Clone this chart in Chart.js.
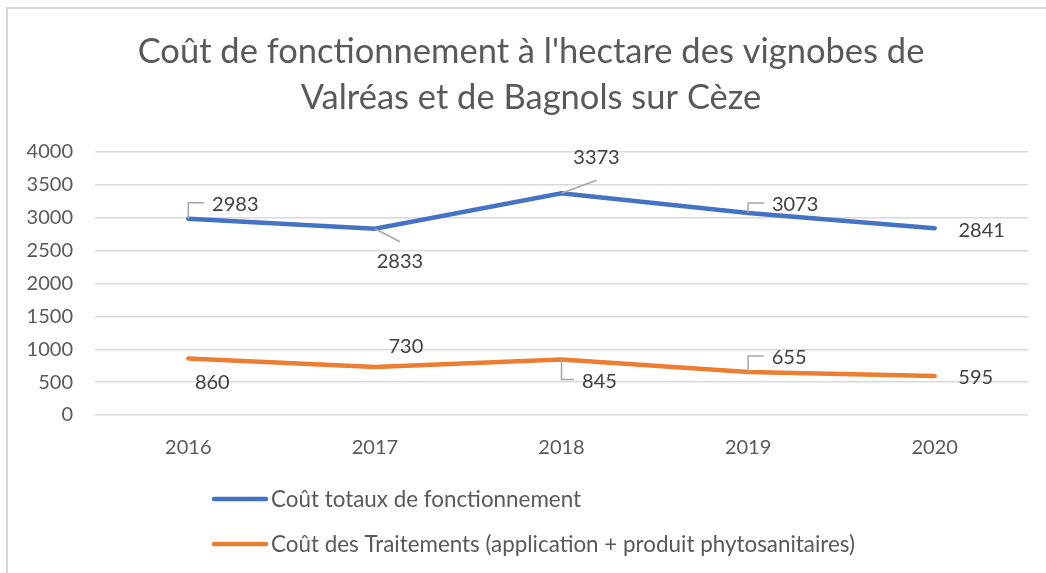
<!DOCTYPE html>
<html>
<head>
<meta charset="utf-8">
<script src="https://cdn.jsdelivr.net/npm/chart.js@4/dist/chart.umd.min.js"></script>
<style>
  html, body { margin: 0; padding: 0; background: #fff; }
  #wrap { position: relative; width: 1046px; height: 573px; }
  #frame { position: absolute; left: 6px; top: 7px; width: 1100px; height: 600px; border: 2px solid #d9d9d9; box-sizing: border-box; }
  #graph { position: absolute; left: 0; top: 0; }
</style>
</head>
<body>
<div id="wrap">
  <div id="frame"></div>
  <canvas id="graph" width="1046" height="573"></canvas>
</div>
<script>
const titre = ["Coût de fonctionnement à l'hectare des vignobes de", "Valréas et de Bagnols sur Cèze"];
const annees = ['2016', '2017', '2018', '2019', '2020'];
const nomTotal = 'Coût totaux de fonctionnement';
const nomTraitement = 'Coût des Traitements (application + produit phytosanitaires)';
const coutTotal = [2983, 2833, 3373, 3073, 2841];
const coutTraitement = [860, 730, 845, 655, 595];
const yTicks = [0, 500, 1000, 1500, 2000, 2500, 3000, 3500, 4000];

// placement des etiquettes (decalage par rapport au point) et type de trait de rappel
const etiqTotal = [
  {dx: 47, dy: -14, trait: 'coude'},
  {dx: 25, dy: 33, trait: 'ligne'},
  {dx: 35, dy: -36, trait: 'ligne'},
  {dx: 47, dy: -8, trait: 'coude'},
  {dx: 47, dy: 2, trait: ''}
];
const etiqTraitement = [
  {dx: 24, dy: 24, trait: ''},
  {dx: 31, dy: -20, trait: ''},
  {dx: 38, dy: 22, trait: 'coude'},
  {dx: 41, dy: -14, trait: 'coude'},
  {dx: 41, dy: 2, trait: ''}
];

const gris = '#595959';
const police = 'Lato, "Open Sans", sans-serif';

const etiquettes = {
  id: 'etiquettes',
  afterDatasetsDraw(chart) {
    const ctx = chart.ctx;
    const places = [etiqTotal, etiqTraitement];
    ctx.save();
    ctx.font = '20px ' + police;
    ctx.textAlign = 'center';
    ctx.textBaseline = 'middle';
    chart.data.datasets.forEach((ds, d) => {
      const meta = chart.getDatasetMeta(d);
      meta.data.forEach((pt, i) => {
        const p = places[d][i];
        const txt = String(ds.data[i]);
        const lx = pt.x + p.dx, ly = pt.y + p.dy;
        const w = ctx.measureText(txt).width;
        ctx.strokeStyle = '#a6a6a6';
        ctx.lineWidth = 1.5;
        if (p.trait == 'coude') {
          ctx.beginPath();
          ctx.moveTo(pt.x, pt.y);
          ctx.lineTo(pt.x, ly - 2);
          ctx.lineTo(lx - w / 2 - 8, ly - 2);
          ctx.stroke();
        } else if (p.trait == 'ligne') {
          ctx.beginPath();
          ctx.moveTo(pt.x, pt.y);
          ctx.lineTo(lx, ly + (p.dy > 0 ? -20 : 23));
          ctx.stroke();
        }
        ctx.fillStyle = '#404040';
        ctx.fillText(txt, lx, ly);
      });
    });
    ctx.restore();
  }
};

const legende = {
  id: 'legende',
  afterDraw(chart) {
    const ctx = chart.ctx;
    ctx.save();
    ctx.font = '22.4px ' + police;
    ctx.textBaseline = 'middle';
    ctx.lineCap = 'round';
    chart.data.datasets.forEach((ds, d) => {
      const y = 499 + d * 45;
      ctx.strokeStyle = ds.borderColor;
      ctx.lineWidth = 4.5;
      ctx.beginPath();
      ctx.moveTo(214, y);
      ctx.lineTo(266, y);
      ctx.stroke();
      ctx.fillStyle = gris;
      ctx.fillText(ds.label, 271, y + 1);
    });
    ctx.restore();
  }
};

let ctx = document.getElementById('graph');
let chartGraph = new Chart(ctx, {
  type: 'line',
  data: {
    labels: annees,
    datasets: [{
      label: nomTotal,
      data: coutTotal,
      borderColor: '#4472C4',
      borderWidth: 4.5,
      borderCapStyle: 'round',
      pointRadius: 0,
      tension: 0
    }, {
      label: nomTraitement,
      data: coutTraitement,
      borderColor: '#ED7D31',
      borderWidth: 4.5,
      borderCapStyle: 'round',
      pointRadius: 0,
      tension: 0
    }]
  },
  options: {
    responsive: false,
    animation: false,
    layout: { padding: { left: 16, right: 0, top: 0, bottom: 0 } },
    plugins: {
      legend: { display: false },
      tooltip: { enabled: false },
      title: {
        display: true,
        text: titre,
        color: gris,
        font: { family: police, size: 34.5, weight: 'normal', lineHeight: 46 / 34.5 },
        padding: { top: 29, bottom: 31 }
      }
    },
    scales: {
      x: {
        offset: true,
        grid: { display: false },
        border: { display: false },
        ticks: { color: gris, font: { family: police, size: 20 }, padding: 13 },
        afterFit: s => { s.height = 158; }
      },
      y: {
        min: 0,
        max: 4000,
        afterBuildTicks: s => { s.ticks = yTicks.map(v => ({value: v})); },
        grid: { color: '#d9d9d9', lineWidth: 1.5, drawTicks: false },
        border: { display: false },
        ticks: { color: gris, font: { family: police, size: 20 }, padding: 22, callback: v => String(v) },
        afterFit: s => { s.width = 79; }
      },
      marge: {
        position: 'right',
        grid: { display: false },
        border: { display: false },
        ticks: { display: false },
        afterFit: s => { s.width = 18; }
      }
    }
  },
  plugins: [etiquettes, legende]
});
</script>
</body>
</html>
